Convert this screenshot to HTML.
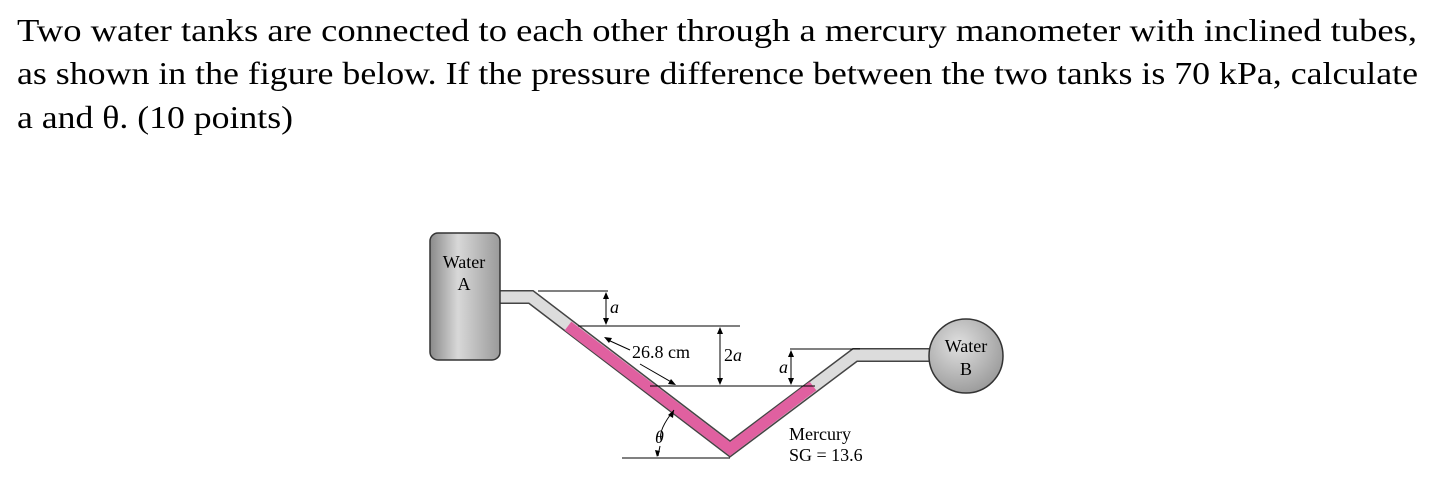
<!DOCTYPE html>
<html><head><meta charset="utf-8"><style>
html,body{margin:0;padding:0;background:#fff;width:1433px;height:500px;overflow:hidden}
</style></head><body>
<svg width="1433" height="500" xmlns="http://www.w3.org/2000/svg" font-family="Liberation Serif, serif">
<g font-size="32" fill="#000">
<text x="17" y="41" textLength="1400" lengthAdjust="spacingAndGlyphs">Two water tanks are connected to each other through a mercury manometer with inclined tubes,</text>
<text x="17" y="84" textLength="1401" lengthAdjust="spacingAndGlyphs">as shown in the figure below. If the pressure difference between the two tanks is 70 kPa, calculate</text>
<text x="17" y="128" textLength="276" lengthAdjust="spacingAndGlyphs">a and θ. (10 points)</text>
</g>
<defs>
<linearGradient id="ga" x1="0" x2="1"><stop offset="0" stop-color="#8a8a8a"/><stop offset="0.4" stop-color="#d8d8d8"/><stop offset="1" stop-color="#9a9a9a"/></linearGradient>
<radialGradient id="gb" cx="0.4" cy="0.35" r="0.7"><stop offset="0" stop-color="#e0e0e0"/><stop offset="1" stop-color="#999"/></radialGradient>
</defs>
<polyline points="498,297 531,297 730,449 855,355 935,355" fill="none" stroke="#444" stroke-width="14" stroke-linejoin="miter"/>
<polyline points="498,297 531,297 730,449 855,355 935,355" fill="none" stroke="#dcdcdc" stroke-width="11" stroke-linejoin="miter"/>
<polyline points="568,326 730,449 813,386" fill="none" stroke="#e060a0" stroke-width="11" stroke-linejoin="miter"/>
<rect x="430" y="233" width="70" height="127" rx="8" fill="url(#ga)" stroke="#333" stroke-width="1.5"/>
<text x="464" y="268" font-size="18" text-anchor="middle">Water</text>
<text x="464" y="290" font-size="18" text-anchor="middle">A</text>
<circle cx="966" cy="356" r="37" fill="url(#gb)" stroke="#333" stroke-width="1.5"/>
<text x="966" y="352" font-size="18" text-anchor="middle">Water</text>
<text x="966" y="375" font-size="18" text-anchor="middle">B</text>
<g stroke="#000" stroke-width="1" fill="none">
<line x1="538" y1="291" x2="608" y2="291"/>
<line x1="578" y1="326" x2="740" y2="326"/>
<line x1="650" y1="386" x2="815" y2="386"/>
<line x1="790" y1="349" x2="860" y2="349"/>
<line x1="622" y1="458" x2="730" y2="458"/>
<line x1="606" y1="293" x2="606" y2="324"/>
<line x1="720" y1="328" x2="720" y2="384"/>
<line x1="791" y1="351" x2="791" y2="384"/>
<line x1="608" y1="340" x2="630" y2="350"/>
<line x1="640" y1="364" x2="673" y2="383"/>
<path d="M661,440 Q658,430 674,410"/>
</g>
<g fill="#000">
<path d="M606,292 l-3,7 h6z M606,325 l-3,-7 h6z"/>
<path d="M720,327 l-3,7 h6z M720,385 l-3,-7 h6z"/>
<path d="M791,350 l-3,7 h6z M791,385 l-3,-7 h6z"/>
<path d="M604,337 l8,1 -3,5z M676,385 l-8,-1 3,-5z"/>
<path d="M674,410 l-1,8 -5,-3z"/>
</g>
<path d="M660,446 L658,456" stroke="#000" fill="none"/>
<path d="M657,457 l-2,-7 5,1z" fill="#000"/>
<g font-size="18">
<text x="610" y="313" font-style="italic">a</text>
<text x="632" y="358">26.8 cm</text>
<text x="724" y="361" font-style="italic"><tspan font-style="normal">2</tspan>a</text>
<text x="779" y="373" font-style="italic">a</text>
<text x="655" y="443" font-style="italic">θ</text>
<text x="789" y="440">Mercury</text>
<text x="789" y="461">SG = 13.6</text>
</g>
</svg>
</body></html>
